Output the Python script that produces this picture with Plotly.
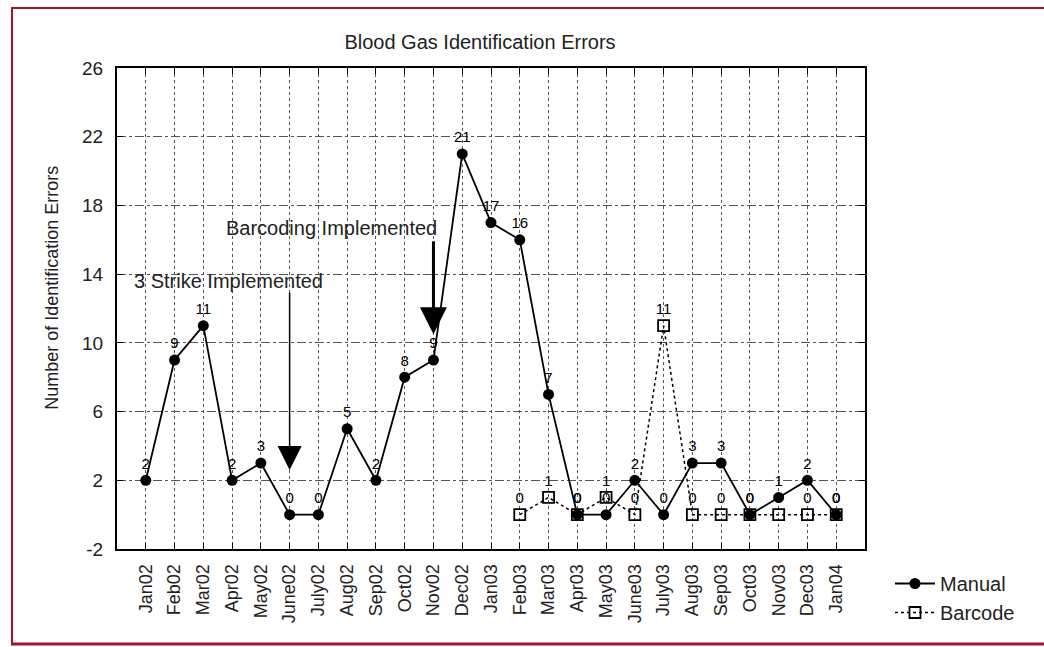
import plotly.graph_objects as go

months = ["Jan02", "Feb02", "Mar02", "Apr02", "May02", "June02", "July02", "Aug02",
          "Sep02", "Oct02", "Nov02", "Dec02", "Jan03", "Feb03", "Mar03", "Apr03",
          "May03", "June03", "July03", "Aug03", "Sep03", "Oct03", "Nov03", "Dec03", "Jan04"]
manual = [2, 9, 11, 2, 3, 0, 0, 5, 2, 8, 9, 21, 17, 16, 7, 0, 0, 2, 0, 3, 3, 0, 1, 2, 0]
barcode_months = ["Feb03", "Mar03", "Apr03", "May03", "June03", "July03", "Aug03",
                  "Sep03", "Oct03", "Nov03", "Dec03", "Jan04"]
barcode = [0, 1, 0, 1, 0, 11, 0, 0, 0, 0, 0, 0]
y_ticks = [-2, 2, 6, 10, 14, 18, 22, 26]

FONT = "Arial, Liberation Sans, Helvetica, sans-serif"
idx = {m: i for i, m in enumerate(months)}
bx = [idx[m] for m in barcode_months]

fig = go.Figure()
fig.add_trace(go.Scatter(
    x=list(range(len(months))), y=manual, name="Manual",
    mode="lines+markers+text", text=[str(v) for v in manual],
    textposition="top center", textfont=dict(size=15, color="black", family=FONT),
    line=dict(color="black", width=1.8),
    marker=dict(symbol="circle", size=11, color="black"),
    cliponaxis=False))
fig.add_trace(go.Scatter(
    x=bx, y=barcode, name="Barcode",
    mode="lines+markers+text", text=[str(v) for v in barcode],
    textposition="top center", textfont=dict(size=15, color="black", family=FONT),
    line=dict(color="black", width=1.5, dash="dot"),
    marker=dict(symbol="square-open", size=11, color="black", line=dict(width=1.8)),
    cliponaxis=False))

# annotations with arrows
fig.add_annotation(x=2.86, y=13.6, text="3 Strike Implemented", showarrow=False,
                   font=dict(size=20, color="#222", family=FONT))
fig.add_annotation(x=5, y=2.6, ax=5, ay=13.0, axref="x", ayref="y", xref="x", yref="y",
                   text="", showarrow=True, arrowhead=2, arrowsize=3.2, arrowwidth=1.5,
                   arrowcolor="black")
fig.add_annotation(x=6.44, y=16.7, text="Barcoding Implemented", showarrow=False,
                   font=dict(size=20, color="#222", family=FONT))
fig.add_annotation(x=10, y=10.5, ax=10, ay=16.0, axref="x", ayref="y", xref="x", yref="y",
                   text="", showarrow=True, arrowhead=2, arrowsize=1.8, arrowwidth=3,
                   arrowcolor="black")

# y-axis title
fig.add_annotation(x=(52 - 117) / 748, y=0.543, xref="paper", yref="paper",
                   xanchor="center", yanchor="middle", text="Number of Identification Errors",
                   showarrow=False, textangle=-90, font=dict(size=18, color="#222", family=FONT))

# red frame
red = "#A8102A"
fig.add_shape(type="line", xref="paper", yref="paper", x0=(11 - 117) / 748, x1=(1050 - 117) / 748,
              y0=(549 - 8) / 481, y1=(549 - 8) / 481, line=dict(color=red, width=2))
fig.add_shape(type="line", xref="paper", yref="paper", x0=(12 - 117) / 748, x1=(12 - 117) / 748,
              y0=(549 - 8) / 481, y1=(549 - 644) / 481, line=dict(color=red, width=2))
fig.add_shape(type="line", xref="paper", yref="paper", x0=(11 - 117) / 748, x1=(1050 - 117) / 748,
              y0=(549 - 644) / 481, y1=(549 - 644) / 481, line=dict(color=red, width=3))

fig.update_layout(
    width=1044, height=647,
    margin=dict(l=117, r=179, t=68, b=98),
    paper_bgcolor="white", plot_bgcolor="white",
    font=dict(family=FONT, color="black", size=14),
    title=dict(text="Blood Gas Identification Errors", x=480 / 1044, xanchor="center",
               y=1 - 42 / 647, yanchor="middle", font=dict(size=20, color="#222", family=FONT)),
    showlegend=True,
    legend=dict(x=(890 - 117) / 748, y=(549 - 564) / 481, xanchor="left", yanchor="top",
                font=dict(size=20, color="#222", family=FONT), bgcolor="rgba(0,0,0,0)",
                tracegroupgap=0, itemwidth=40),
)
fig.update_xaxes(
    range=[-1, 25], tickmode="array", tickvals=list(range(len(months))), ticktext=months,
    tickangle=-90, tickfont=dict(size=18, color="#222", family=FONT), ticklabelstandoff=6,
    showline=True, linecolor="black", linewidth=2, mirror="allticks",
    ticks="inside", ticklen=6, tickcolor="black", tickwidth=1,
    showgrid=True, gridcolor="#555", gridwidth=1, griddash="dot", zeroline=False)
fig.update_yaxes(
    range=[-2, 26], tickmode="array", tickvals=y_ticks, ticktext=[str(v) for v in y_ticks],
    tickfont=dict(size=19, color="#222", family=FONT), ticklabelstandoff=8,
    showline=True, linecolor="black", linewidth=2, mirror="allticks",
    ticks="inside", ticklen=6, tickcolor="black", tickwidth=1,
    showgrid=True, gridcolor="#555", gridwidth=1, griddash="dashdot", zeroline=False)

fig.write_html("out.html", config={"displayModeBar": False},
               post_script="document.body.style.margin='0';")
